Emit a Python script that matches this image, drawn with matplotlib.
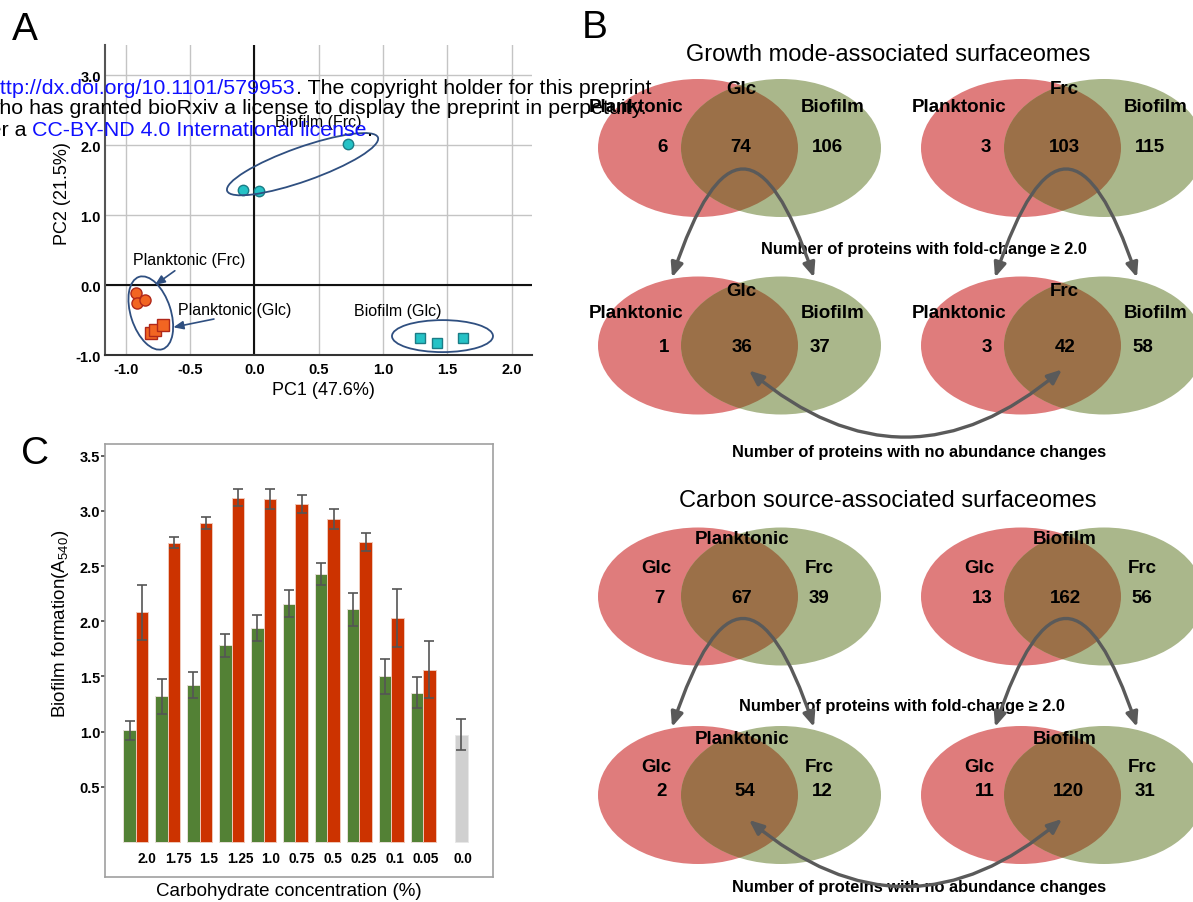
import numpy as np
import matplotlib
matplotlib.use("Agg")
import matplotlib.pyplot as plt
from matplotlib.patches import Ellipse, FancyArrowPatch, ArrowStyle
from matplotlib.transforms import ScaledTranslation

plt.rcParams["font.family"] = ["Liberation Sans", "DejaVu Sans"]
plt.rcParams["mathtext.fontset"] = "custom"
plt.rcParams["mathtext.rm"] = "Liberation Sans"

W, H = 1193, 903

# ---- panel A: PCA scores ----
plank_frc_pc1 = [-0.92, -0.91, -0.85]
plank_frc_pc2 = [-0.12, -0.25, -0.21]
plank_glc_pc1 = [-0.80, -0.77, -0.71]
plank_glc_pc2 = [-0.69, -0.64, -0.57]
bio_frc_pc1 = [-0.09, 0.04, 0.73]
bio_frc_pc2 = [1.36, 1.34, 2.02]
bio_glc_pc1 = [1.29, 1.42, 1.62]
bio_glc_pc2 = [-0.76, -0.83, -0.76]
pca_xticks = [-1.0, -0.5, 0.0, 0.5, 1.0, 1.5, 2.0]
pca_yticks = [-1.0, 0.0, 1.0, 2.0, 3.0]

# ---- panel C: biofilm formation ----
conc_labels = ["2.0", "1.75", "1.5", "1.25", "1.0", "0.75", "0.5", "0.25", "0.1", "0.05"]
glc_mean = [1.01, 1.32, 1.42, 1.78, 1.94, 2.16, 2.43, 2.11, 1.50, 1.35]
glc_err = [0.09, 0.16, 0.12, 0.10, 0.12, 0.12, 0.10, 0.15, 0.16, 0.14]
frc_mean = [2.08, 2.71, 2.89, 3.12, 3.11, 3.06, 2.93, 2.72, 2.03, 1.56]
frc_err = [0.25, 0.05, 0.05, 0.08, 0.09, 0.08, 0.09, 0.08, 0.26, 0.26]
ctrl_label = "0.0"
ctrl_mean = 0.97
ctrl_err = 0.14

# ---- panel B: Venn counts (left only, shared, right only) ----
growth_conditions = ["Glc", "Frc"]
growth_sets = ("Planktonic", "Biofilm")
growth_fc = [(6, 74, 106), (3, 103, 115)]
growth_nochange = [(1, 36, 37), (3, 42, 58)]
carbon_conditions = ["Planktonic", "Biofilm"]
carbon_sets = ("Glc", "Frc")
carbon_fc = [(7, 67, 39), (13, 162, 56)]
carbon_nochange = [(2, 54, 12), (11, 120, 31)]

ORANGE, ORANGE_EDGE = "#f26522", "#b0281a"
CYAN, CYAN_EDGE = "#25c2c6", "#1b7c86"
NAVY = "#2f4f80"
VRED, VGREEN, VBROWN = "#df7c7c", "#aab78b", "#9b7048"
ARROW = "#5a5a5a"
BLUE = "#1010ff"

fig = plt.figure(figsize=(W / 100, H / 100), dpi=100)

# ================= A =================
axA = fig.add_axes([105 / W, 1 - 356 / H, 427 / W, 310 / H])
axA.set_xticks(pca_xticks)
axA.set_xticklabels(["%.1f" % v for v in pca_xticks], fontweight="bold", fontsize=10.5)
axA.set_yticks(pca_yticks)
axA.set_yticklabels(["%.1f" % v for v in pca_yticks], fontweight="bold", fontsize=10.5)
axA.tick_params(length=0)
axA.tick_params(axis="x", pad=5)
axA.tick_params(axis="y", pad=3)
axA.grid(True, color="#c4c4c4", lw=1)
axA.set_axisbelow(True)
axA.axhline(0, color="#111111", lw=1.5, zorder=1)
axA.axvline(0, color="#111111", lw=1.5, zorder=1)
for s in ["top", "right"]:
    axA.spines[s].set_visible(False)
axA.spines["left"].set_color("#555555")
axA.spines["bottom"].set_color("#333333")
axA.spines["left"].set_linewidth(1.5)
axA.spines["bottom"].set_linewidth(1.5)

axA.plot(plank_frc_pc1, plank_frc_pc2, "o", ms=8, mfc=ORANGE, mec=ORANGE_EDGE, mew=1, zorder=4)
axA.plot(plank_glc_pc1, plank_glc_pc2, "s", ms=8, mfc=ORANGE, mec=ORANGE_EDGE, mew=1, zorder=4)
axA.plot(bio_frc_pc1, bio_frc_pc2, "o", ms=7.5, mfc=CYAN, mec=CYAN_EDGE, mew=1, zorder=4)
axA.plot(bio_glc_pc1, bio_glc_pc2, "s", ms=7.5, mfc=CYAN, mec=CYAN_EDGE, mew=1, zorder=4)


def cluster_ellipse(ax, center, w_px, h_px, angle):
    tr = fig.dpi_scale_trans + ScaledTranslation(center[0], center[1], ax.transData)
    e = Ellipse((0, 0), w_px / 100, h_px / 100, angle=angle, transform=tr,
                fill=False, ec=NAVY, lw=1.3, zorder=5)
    ax.add_patch(e)


cluster_ellipse(axA, (0.375, 1.727), 160, 34, 19.5)
cluster_ellipse(axA, (-0.805, -0.40), 76, 40, 108)
cluster_ellipse(axA, (1.463, -0.73), 101, 32, 0)

axA.text(0.495, 2.34, "Biofilm (Frc)", fontsize=11.5, ha="center", va="center")
axA.text(-0.509, 0.36, "Planktonic (Frc)", fontsize=11.5, ha="center", va="center")
axA.text(-0.15, -0.35, "Planktonic (Glc)", fontsize=11.5, ha="center", va="center")
axA.text(1.117, -0.367, "Biofilm (Glc)", fontsize=11.5, ha="center", va="center")
astyle = ArrowStyle("-|>", head_length=0.6, head_width=0.25)
axA.annotate("", xy=(-0.773, 0.0), xytext=(-0.618, 0.204),
             arrowprops=dict(arrowstyle=astyle, color=NAVY, lw=1.2, shrinkA=0, shrinkB=0, mutation_scale=10))
axA.annotate("", xy=(-0.63, -0.604), xytext=(-0.314, -0.486),
             arrowprops=dict(arrowstyle=astyle, color=NAVY, lw=1.2, shrinkA=0, shrinkB=0, mutation_scale=10))

axA.set_xlim(-1.161, 2.159)
axA.set_ylim(-1.0, 3.43)
axA.set_xlabel("PC1 (47.6%)", fontsize=13)
axA.xaxis.set_label_coords(0.512, -0.084)
axA.set_ylabel("PC2 (21.5%)", fontsize=13)
axA.yaxis.set_label_coords(-0.079, 0.523)

# ================= C =================
axC = fig.add_axes([105 / W, 1 - 878 / H, 388 / W, 433 / H])
x = np.arange(len(conc_labels))
bw = 0.392
axC.bar(x - bw / 2, glc_mean, bw, color="#538135", edgecolor="#e6e0d8", lw=0.7)
axC.bar(x + bw / 2, frc_mean, bw, color="#cc3300", edgecolor="#f0c8b8", lw=0.7)
xc = len(conc_labels) + bw / 2
axC.bar([xc], [ctrl_mean], bw, color="#d0d0d0", edgecolor="#e8e8e8", lw=0.7)
ekw = dict(fmt="none", ecolor="#555555", elinewidth=1.2, capsize=3.5, capthick=1.2)
axC.errorbar(x - bw / 2, glc_mean, yerr=glc_err, **ekw)
axC.errorbar(x + bw / 2, frc_mean, yerr=frc_err, **ekw)
axC.errorbar([xc], [ctrl_mean], yerr=[ctrl_err], **ekw)

yt = [0.5, 1.0, 1.5, 2.0, 2.5, 3.0, 3.5]
axC.set_yticks(yt)
axC.set_yticklabels(["%.1f" % v for v in yt], fontweight="bold", fontsize=10.5)
axC.tick_params(axis="y", length=3, width=1.2, color="#444444", pad=0.5)
tick_pos = list(x * 0.97 + 0.35) + [len(conc_labels) + 0.26]
axC.set_xticks(tick_pos)
axC.set_xticklabels(conc_labels + [ctrl_label], fontweight="bold", fontsize=9.8)
axC.tick_params(axis="x", length=0, pad=-19)
for s in axC.spines.values():
    s.set_color("#a0a0a0")
    s.set_linewidth(1.2)
axC.set_xlim(-0.969, 11.19)
axC.set_ylim(-0.318, 3.606)
axC.set_xlabel("Carbohydrate concentration (%)", fontsize=13.5)
axC.xaxis.set_label_coords(0.474, -0.012)
axC.set_ylabel(r"Biofilm formation(A$_{\mathregular{540}}$)", fontsize=13.5)
axC.yaxis.set_label_coords(-0.088, 0.587)

# ================= overlay: B, labels =================
ov = fig.add_axes([0, 0, 1, 1], zorder=5)
ov.set_xlim(0, W)
ov.set_ylim(H, 0)
ov.axis("off")

EW, EH, DX = 200, 138, 83


def venn(cx, cy, title, names, counts, lab_dy, num_dx, num_dy, lab_dx):
    red = Ellipse((cx, cy), EW, EH, fc=VRED, ec="none")
    ov.add_patch(red)
    ov.add_patch(Ellipse((cx + DX, cy), EW, EH, fc=VGREEN, ec="none"))
    mid = Ellipse((cx + DX, cy), EW, EH, fc=VBROWN, ec="none")
    ov.add_patch(mid)
    mid.set_clip_path(red)
    kw = dict(fontsize=13.5, fontweight="bold", ha="center", va="center")
    ov.text(cx + lab_dx[0], cy + lab_dy[0], title, **kw)
    ov.text(cx + lab_dx[1], cy + lab_dy[1], names[0], **kw)
    ov.text(cx + lab_dx[2], cy + lab_dy[1], names[1], **kw)
    for dx, n in zip(num_dx, counts):
        ov.text(cx + dx, cy + num_dy, str(n), **kw)


def arrow(p0, p1, rad):
    st = ArrowStyle("<|-|>", head_length=0.86, head_width=0.36)
    ov.add_patch(FancyArrowPatch(p0, p1, connectionstyle="arc3,rad=%s" % rad,
                                 arrowstyle=st, mutation_scale=10, lw=2.4,
                                 color=ARROW, shrinkA=0, shrinkB=0, zorder=4))


col_x = [698, 1021]
rows_y = [149, 346.5, 597.5, 796]

for j in range(2):
    venn(col_x[j], rows_y[0], growth_conditions[j], growth_sets, growth_fc[j],
         (-59, -41), (-35, 43, 129), -2, (43, -62, 135))
    venn(col_x[j], rows_y[1], growth_conditions[j], growth_sets, growth_nochange[j],
         (-55, -33), (-34, 44, 122), 1, (43, -62, 135))
    venn(col_x[j], rows_y[2], carbon_conditions[j], carbon_sets, carbon_fc[j],
         (-58, -29), (-39, 44, 121), 1, (44, -42, 121))
    venn(col_x[j], rows_y[3], carbon_conditions[j], carbon_sets, carbon_nochange[j],
         (-56, -28), (-36, 47, 124), -4, (44, -42, 121))

for top, bottom in [(rows_y[0], rows_y[1]), (rows_y[2], rows_y[3])]:
    for j in range(2):
        arrow((col_x[j] - 26, bottom - 68), (col_x[j] + 116, bottom - 68), -1.5)
    arrow((col_x[0] + 51, bottom + 25), (col_x[1] + 41, bottom + 24), 0.42)

ov.text(888, 55, "Growth mode-associated surfaceomes", fontsize=17, ha="center", va="center")
ov.text(888, 501, "Carbon source-associated surfaceomes", fontsize=17, ha="center", va="center")
ckw = dict(fontsize=11.8, fontweight="bold", ha="center", va="center")
ov.text(924, 250, "Number of proteins with fold-change \u2265 2.0", **ckw)
ov.text(919, 453, "Number of proteins with no abundance changes", **ckw)
ov.text(902, 707, "Number of proteins with fold-change \u2265 2.0", **ckw)
ov.text(919, 888, "Number of proteins with no abundance changes", **ckw)

for lab, (lx, ly) in zip("ABC", [(25, 30), (595, 28), (35, 454)]):
    ov.text(lx, ly, lab, fontsize=28, ha="center", va="center")

# preprint notice overlaid on the top-left corner
notice = [
    (-11, 94, [("http://dx.doi.org/10.1101/579953", BLUE),
               (". The copyright holder for this preprint", "black")]),
    (-16, 114, [("who has granted bioRxiv a license to display the preprint in perpetuity.", "black")]),
    (-46, 135.5, [("under a ", "black"), ("CC-BY-ND 4.0 International license", BLUE), (".", "black")]),
]
for nx, ny, parts in notice:
    prev = None
    for s, c in parts:
        if prev is None:
            prev = ov.text(nx, ny, s, color=c, fontsize=15.4, ha="left", va="baseline", zorder=10, clip_on=False)
        else:
            prev = ov.annotate(s, xy=(1, 0), xycoords=prev, color=c, fontsize=15.4,
                               ha="left", va="bottom", zorder=10, annotation_clip=False)

fig.savefig("out.png", dpi=100)
